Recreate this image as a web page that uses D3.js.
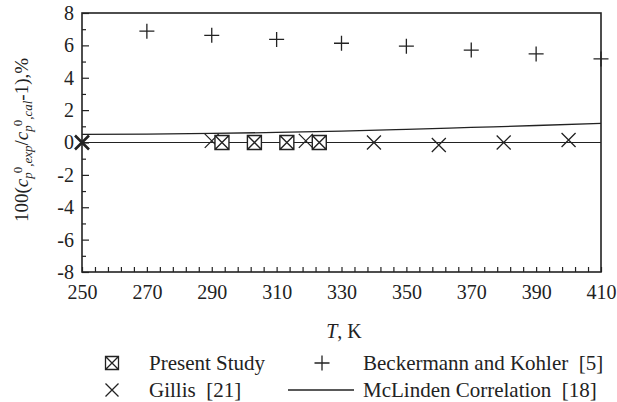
<!DOCTYPE html>
<html>
<head>
<meta charset="utf-8">
<script src="https://cdn.jsdelivr.net/npm/d3@7"></script>
<style>
  body { margin: 0; background: #fff; }
  svg text { font-family: "Liberation Serif", Tinos, "Times New Roman", Times, "DejaVu Serif", serif; fill: #222; }
</style>
</head>
<body>
<div id="main"></div>
<script>
// Present Study
var presentT = [293.15, 303.15, 313.15, 323.15];
var presentDev = [0, 0, 0, 0];

// Beckermann and Kohler [5]
var beckT = [270, 290, 310, 330, 350, 370, 390, 410];
var beckDev = [6.88, 6.62, 6.37, 6.13, 5.95, 5.71, 5.47, 5.16];

// Gillis [21]
var gillisT = [250, 290, 319, 340, 360, 380, 400];
var gillisDev = [0, 0.1, 0.1, 0, -0.15, 0, 0.15];

// McLinden Correlation [18]
var mclT = [250, 270, 290, 310, 330, 350, 370, 390, 410];
var mclDev = [0.5, 0.52, 0.56, 0.62, 0.7, 0.81, 0.93, 1.05, 1.18];

var xTickLabels = [250, 270, 290, 310, 330, 350, 370, 390, 410];
var yTickLabels = [-8, -6, -4, -2, 0, 2, 4, 6, 8];

var w = 617, h = 402;
var ink = "#222";
var serif = '"Liberation Serif", Tinos, "Times New Roman", Times, "DejaVu Serif", serif';

var svg = d3.select("#main")
  .append("svg")
  .attr("width", w)
  .attr("height", h)
  .attr("font-family", serif);

var x = d3.scaleLinear().domain([250, 410]).range([82, 601]);
var y = d3.scaleLinear().domain([-8, 8]).range([272, 13]);

// axes (ticks point inward)
var gy = svg.append("g").attr("transform", "translate(82,0)");
gy.call(d3.axisLeft(y).tickValues(yTickLabels).tickSize(-7).tickPadding(8)
  .tickFormat(function(d) { return String(d); }));
gy.append("g").call(d3.axisLeft(y).tickValues(d3.range(-7, 8, 2)).tickSize(-4).tickFormat(""));

var gx = svg.append("g").attr("transform", "translate(0,272)");
gx.call(d3.axisBottom(x).tickValues(d3.range(250, 411, 4)).tickSize(-5).tickFormat(""));
gx.append("g").call(d3.axisBottom(x).tickValues(xTickLabels).tickSize(0).tickPadding(13)
  .tickFormat(function(d) { return String(d); }));

svg.selectAll("g").attr("font-family", serif);
svg.selectAll(".domain").remove();
svg.selectAll(".tick line").attr("stroke", ink).attr("stroke-width", 1.2);
svg.selectAll(".tick text").attr("font-size", 20).style("font-family", serif).attr("fill", ink);

// frame
svg.append("rect")
  .attr("x", x(250)).attr("y", y(8))
  .attr("width", x(410) - x(250)).attr("height", y(-8) - y(8))
  .attr("fill", "none").attr("stroke", ink).attr("stroke-width", 1.6);

// zero line
svg.append("line")
  .attr("x1", x(250)).attr("x2", x(410))
  .attr("y1", y(0)).attr("y2", y(0))
  .attr("stroke", ink).attr("stroke-width", 1.2);

// McLinden line
var line = d3.line()
  .x(function(d, i) { return x(mclT[i]); })
  .y(function(d) { return y(d); })
  .curve(d3.curveMonotoneX);
svg.append("path")
  .attr("d", line(mclDev))
  .attr("fill", "none").attr("stroke", ink).attr("stroke-width", 1.3);

// marker shapes
function plusPath(cx, cy, r) {
  return "M" + (cx - r) + "," + cy + "H" + (cx + r) + "M" + cx + "," + (cy - r) + "V" + (cy + r);
}
function crossPath(cx, cy, r) {
  return "M" + (cx - r) + "," + (cy - r) + "L" + (cx + r) + "," + (cy + r) +
         "M" + (cx - r) + "," + (cy + r) + "L" + (cx + r) + "," + (cy - r);
}
function boxPath(cx, cy, r) {
  return "M" + (cx - r) + "," + (cy - r) + "H" + (cx + r) + "V" + (cy + r) + "H" + (cx - r) + "Z" +
         crossPath(cx, cy, r);
}

svg.selectAll(".beck")
  .data(beckDev).enter().append("path")
  .attr("d", function(d, i) { return plusPath(x(beckT[i]), y(d), 7.5); })
  .attr("stroke", ink).attr("stroke-width", 1.3).attr("fill", "none");

svg.selectAll(".gillis")
  .data(gillisDev).enter().append("path")
  .attr("d", function(d, i) { return crossPath(x(gillisT[i]), y(d), 7); })
  .attr("stroke", ink).attr("stroke-width", function(d, i) { return i === 0 ? 2.6 : 1.3; })
  .attr("fill", "none");

svg.selectAll(".present")
  .data(presentDev).enter().append("path")
  .attr("d", function(d, i) { return boxPath(x(presentT[i]), y(d), 7); })
  .attr("stroke", ink).attr("stroke-width", 1.4).attr("fill", "#fff");

// y title
var yt = svg.append("text")
  .attr("transform", "translate(28,140) rotate(-90)")
  .attr("text-anchor", "middle")
  .attr("font-size", 19);
yt.append("tspan").text("100(");
yt.append("tspan").attr("font-style", "italic").text("c");
yt.append("tspan").attr("font-style", "italic").attr("font-size", 13).attr("dy", 4).text("p");
yt.append("tspan").attr("font-size", 13).attr("dy", -10).attr("dx", -1).text("0");
yt.append("tspan").attr("font-style", "italic").attr("font-size", 13).attr("dy", 10).text(",exp");
yt.append("tspan").attr("dy", -4).text("/");
yt.append("tspan").attr("font-style", "italic").text("c");
yt.append("tspan").attr("font-style", "italic").attr("font-size", 13).attr("dy", 4).text("p");
yt.append("tspan").attr("font-size", 13).attr("dy", -10).attr("dx", -1).text("0");
yt.append("tspan").attr("font-style", "italic").attr("font-size", 13).attr("dy", 10).text(",cal");
yt.append("tspan").attr("dy", -4).text("-1),%");

// x title
var xt = svg.append("text")
  .attr("x", 344).attr("y", 338)
  .attr("text-anchor", "middle")
  .attr("font-size", 20);
xt.append("tspan").attr("font-style", "italic").text("T");
xt.append("tspan").text(", K");

// legend
var legend = svg.append("g").attr("font-size", 21);
legend.append("path").attr("d", boxPath(112, 363, 6.5))
  .attr("stroke", ink).attr("stroke-width", 1.3).attr("fill", "none");
legend.append("text").attr("x", 149).attr("y", 370).text("Present Study");
legend.append("path").attr("d", plusPath(322, 363, 7.5))
  .attr("stroke", ink).attr("stroke-width", 1.3);
legend.append("text").attr("x", 363).attr("y", 370)
  .style("white-space", "pre").text("Beckermann and Kohler  [5]");
legend.append("path").attr("d", crossPath(112, 390, 6.5))
  .attr("stroke", ink).attr("stroke-width", 1.3);
legend.append("text").attr("x", 149).attr("y", 397).style("white-space", "pre").text("Gillis  [21]");
legend.append("line").attr("x1", 288).attr("x2", 354).attr("y1", 390).attr("y2", 390)
  .attr("stroke", ink).attr("stroke-width", 1.3);
legend.append("text").attr("x", 363).attr("y", 397).style("white-space", "pre").text("McLinden Correlation  [18]");
</script>
</body>
</html>
